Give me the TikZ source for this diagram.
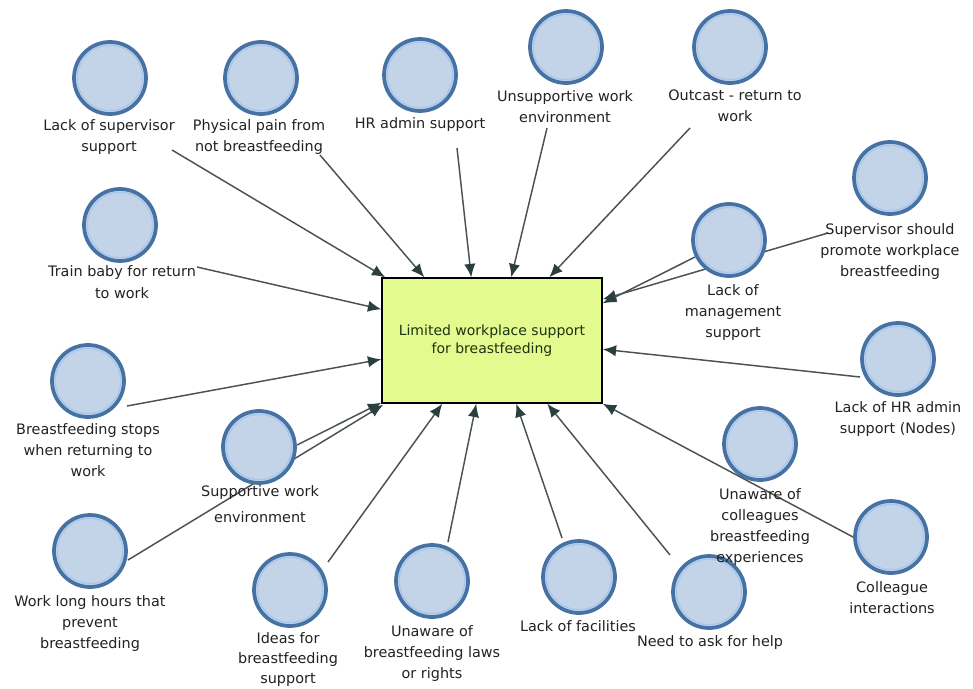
\documentclass[tikz,border=0pt]{standalone}
\usepackage{fontspec}
\setmainfont{DejaVu Sans}
\usetikzlibrary{arrows.meta,calc,backgrounds}

\definecolor{ringdark}{HTML}{4672A3}
\definecolor{ringfill}{HTML}{C4D4E8}
\definecolor{ringlight}{HTML}{A9C7EC}
\definecolor{boxfill}{HTML}{E3FA8E}
\definecolor{boxtext}{HTML}{1D3310}
\definecolor{linkgray}{HTML}{4A5252}
\definecolor{tipgray}{HTML}{2A3F3F}
\definecolor{labeltext}{HTML}{222222}

\begin{document}
\begin{tikzpicture}[x=0.75pt,y=-0.75pt,
  concept/.style={circle, draw=ringdark, fill=ringfill, line width=2.8pt,
    minimum size=54pt, inner sep=0pt,
    path picture={\draw[ringlight, line width=1pt]
      (path picture bounding box.center) circle (24.5pt);}},
  caption/.style={font=\fontsize{10.8}{15.75}\selectfont, text=labeltext,
    align=center, inner sep=0pt, anchor=north},
  core/.style={draw=black, fill=boxfill, line width=1.1pt,
    minimum width=165pt, minimum height=93.75pt, align=center,
    font=\fontsize{10.5}{13.5}\selectfont, text=boxtext},
  link/.style={draw=linkgray, line width=1.1pt,
    -{Latex[length=10pt,width=8.5pt,color=tipgray]}}
]
\useasboundingbox (0,0) rectangle (973,688);

% central theme
\node[core] (box) at (492,340.5) {Limited workplace support\\for breastfeeding};

% concept circles
\node[concept] (sup)    at (110,78)  {};
\node[concept] (pain)   at (261,78)  {};
\node[concept] (hr)     at (420,75)  {};
\node[concept] (unsup)  at (566,47)  {};
\node[concept] (out)    at (730,47)  {};
\node[concept] (prom)   at (890,178) {};
\node[concept] (mgmt)   at (729,240) {};
\node[concept] (hradm)  at (898,359) {};
\node[concept] (unawc)  at (760,444) {};
\node[concept] (colint) at (891,537) {};
\node[concept] (help)   at (709,592) {};
\node[concept] (facil)  at (579,577) {};
\node[concept] (laws)   at (432,581) {};
\node[concept] (ideas)  at (290,590) {};
\node[concept] (work)   at (90,551)  {};
\node[concept] (supp)   at (259,447) {};
\node[concept] (stop)   at (88,381)  {};
\node[concept] (train)  at (120,225) {};

% captions under the circles
\node[caption] (sup-t)    at (109,119) {Lack of supervisor\\support};
\node[caption] (pain-t)   at (259,119) {Physical pain from\\not breastfeeding};
\node[caption] (hr-t)     at (420,117) {HR admin support};
\node[caption] (unsup-t)  at (565,90)  {Unsupportive work\\environment};
\node[caption] (out-t)    at (735,90)  {Outcast - return to\\work};
\node[caption] (prom-t)   at (890,223) {Supervisor should\\promote workplace\\breastfeeding};
\node[caption] (mgmt-t)   at (733,284) {Lack of\\management\\support};
\node[caption] (hradm-t)  at (898,401) {Lack of HR admin\\support (Nodes)};
\node[caption] (unawc-t)  at (760,488) {Unaware of\\colleagues\\breastfeeding\\experiences};
\node[caption] (colint-t) at (892,581) {Colleague\\interactions};
\node[caption] (help-t)   at (710,635) {Need to ask for help};
\node[caption] (facil-t)  at (578,620) {Lack of facilities};
\node[caption] (laws-t)   at (432,625) {Unaware of\\breastfeeding laws\\or rights};
\node[caption,font=\fontsize{10.8}{15}\selectfont]
                (ideas-t) at (288,632) {Ideas for\\breastfeeding\\support};
\node[caption] (work-t)   at (90,595)  {Work long hours that\\prevent\\breastfeeding};
\node[caption,font=\fontsize{10.8}{19.5}\selectfont]
                (supp-t)  at (260,485) {Supportive work\\environment};
\node[caption] (stop-t)   at (88,423)  {Breastfeeding stops\\when returning to\\work};
\node[caption,font=\fontsize{10.8}{16.5}\selectfont]
                (train-t) at (122,265) {Train baby for return\\to work};

% free ends of the connectors
\coordinate (sup-o)    at (172,150);
\coordinate (pain-o)   at (320,155);
\coordinate (hr-o)     at (457,148);
\coordinate (unsup-o)  at (547,128);
\coordinate (out-o)    at (690,128);
\coordinate (prom-o)   at (828,233);
\coordinate (hradm-o)  at (860,377);
\coordinate (colint-o) at (853,537);
\coordinate (help-o)   at (670,555);
\coordinate (facil-o)  at (562,538);
\coordinate (laws-o)   at (448,542);
\coordinate (ideas-o)  at (328,562);
\coordinate (work-o)   at (128,560);
\coordinate (supp-o)   at (297,445);
\coordinate (stop-o)   at (127,406);
\coordinate (train-o)  at (197,267);

\begin{pgfonlayer}{background}
  \fill[white] (0,0) rectangle (973,688);
  % top edge
  \draw[link] (sup-o)   -- ($(box.north west)+(4,0)$);
  \draw[link] (pain-o)  -- ($(box.north west)+(43,0)$);
  \draw[link] (hr-o)    -- ($(box.north west)+(90,0)$);
  \draw[link] (unsup-o) -- ($(box.north west)+(130,0)$);
  \draw[link] (out-o)   -- ($(box.north west)+(168,0)$);
  % right edge
  \draw[link] (prom-o)  -- ($(box.north east)+(0,22)$);
  \draw[link] (mgmt)    -- ($(box.north east)+(0,26)$);
  \draw[link] (hradm-o) -- ($(box.north east)+(0,72)$);
  \draw[link] (colint-o) -- (box.south east);
  % bottom edge
  \draw[link] (help-o)  -- ($(box.south west)+(166,0)$);
  \draw[link] (facil-o) -- ($(box.south west)+(135,0)$);
  \draw[link] (laws-o)  -- ($(box.south west)+(95,0)$);
  \draw[link] (ideas-o) -- ($(box.south west)+(61,0)$);
  \draw[link] (work-o)  -- ($(box.south west)+(2,1)$);
  \draw[link] (supp-o)  -- ($(box.south west)+(0,-1)$);
  % left edge
  \draw[link] (stop-o)  -- ($(box.north west)+(0,82)$);
  \draw[link] (train-o) -- ($(box.north west)+(0,32)$);
\end{pgfonlayer}
\end{tikzpicture}
\end{document}
